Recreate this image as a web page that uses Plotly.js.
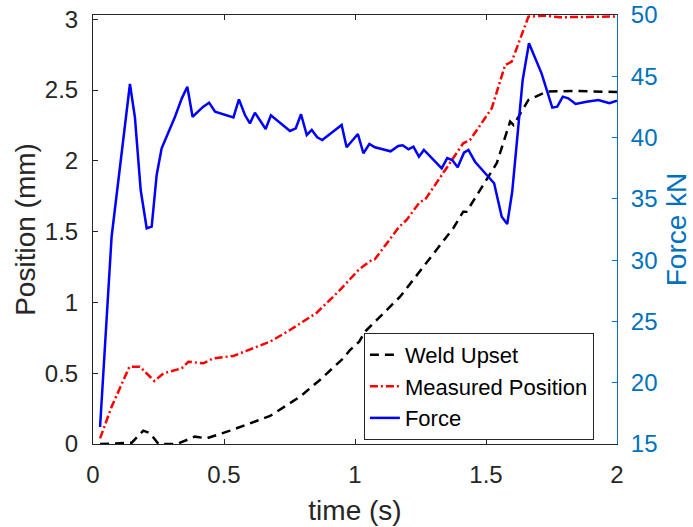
<!DOCTYPE html>
<html>
<head>
<meta charset="utf-8">
<script src="https://cdn.plot.ly/plotly-3.0.1.min.js"></script>
<style>html,body{margin:0;padding:0;background:#fff;}#chart{width:693px;height:527px;}</style>
</head>
<body>
<div id="chart"></div>
<script>
// Weld Upset (mm)
const weldTime = [0.027,0.148,0.192,0.218,0.25,0.32,0.389,0.434,0.523,0.637,0.676,0.79,0.866,0.955,0.981,1.016,1.038,1.172,1.375,1.413,1.426,1.541,1.592,1.605,1.662,1.732,1.833,2.0];
const weldPos  = [0,0.009,0.094,0.076,0,0,0.052,0.040,0.094,0.170,0.198,0.334,0.452,0.605,0.664,0.723,0.793,1.040,1.524,1.641,1.641,1.983,2.277,2.253,2.430,2.489,2.494,2.486];

// Measured Position (mm)
const measTime = [0.027,0.071,0.139,0.179,0.234,0.269,0.339,0.364,0.421,0.459,0.536,0.625,0.676,0.752,0.854,0.943,1.016,1.064,1.076,1.169,1.197,1.248,1.267,1.413,1.439,1.522,1.573,1.598,1.662,1.725,1.782,2.0];
const measPos  = [0.040,0.263,0.546,0.546,0.445,0.499,0.535,0.581,0.570,0.605,0.622,0.687,0.723,0.805,0.927,1.088,1.234,1.300,1.305,1.535,1.582,1.711,1.724,2.124,2.147,2.371,2.677,2.700,3.018,3.025,3.014,3.020];

// Force (kN)
const forceTime = [0.027,0.071,0.141,0.160,0.182,0.205,0.224,0.243,0.262,0.313,0.339,0.360,0.380,0.421,0.443,0.466,0.536,0.557,0.580,0.599,0.618,0.659,0.679,0.752,0.774,0.794,0.816,0.835,0.856,0.875,0.949,0.968,1.011,1.032,1.055,1.076,1.136,1.165,1.182,1.204,1.223,1.244,1.263,1.331,1.352,1.371,1.392,1.416,1.433,1.458,1.531,1.560,1.581,1.600,1.640,1.664,1.712,1.753,1.772,1.793,1.814,1.842,1.884,1.929,1.971,2.0];
const forceKN  = [16.39,31.91,44.37,41.65,35.72,32.60,32.73,36.95,39.13,41.70,43.20,44.15,41.70,42.52,42.85,42.11,41.65,43.12,41.84,41.16,42.03,40.70,41.82,40.54,40.76,41.90,40.21,40.62,40.02,39.80,41.03,39.21,40.29,38.72,39.48,39.21,38.88,39.31,39.37,39.04,39.26,38.44,38.99,37.49,38.33,38.17,37.57,38.77,38.99,38.03,36.27,33.54,32.95,35.58,44.70,47.69,45.24,42.44,42.52,43.34,43.20,42.74,42.93,43.07,42.80,43.01];

const xTicks = [0,0.5,1,1.5,2];
const xTickText = ['0','0.5','1','1.5','2'];
const yTicks = [0,0.5,1,1.5,2,2.5,3];
const yTickText = ['0','0.5','1','1.5','2','2.5','3'];
const y2Ticks = [15,20,25,30,35,40,45,50];
const y2TickText = ['15','20','25','30','35','40','45','50'];

const FONT = 'Liberation Sans, Arial, Helvetica, sans-serif';
const AX = '#262626';
const BLUEAX = '#0072BD';

const traces = [
  {x: weldTime, y: weldPos, type: 'scatter', mode: 'lines', name: 'Weld Upset',
   line: {color: '#000000', width: 2.5, dash: '9px,6px'}, yaxis: 'y'},
  {x: measTime, y: measPos, type: 'scatter', mode: 'lines', name: 'Measured Position',
   line: {color: '#ff0000', width: 2.5, dash: '8px,3px,2px,3px'}, yaxis: 'y'},
  {x: forceTime, y: forceKN, type: 'scatter', mode: 'lines', name: 'Force',
   line: {color: '#0000ff', width: 2.5}, yaxis: 'y2'}
];

const layout = {
  width: 693, height: 527,
  margin: {l: 93, r: 76, t: 15, b: 83},
  paper_bgcolor: '#ffffff', plot_bgcolor: '#ffffff',
  font: {family: FONT, color: AX},
  showlegend: true,
  xaxis: {
    range: [0, 2], tickvals: xTicks, ticktext: xTickText,
    ticks: 'inside', ticklen: 5, tickcolor: AX, tickwidth: 1,
    showline: true, linecolor: AX, linewidth: 1, mirror: 'ticks',
    showgrid: false, zeroline: false,
    tickfont: {size: 24, color: AX, family: FONT}, ticklabelstandoff: 9,
    title: {text: 'time (s)', font: {size: 28, color: AX, family: FONT}, standoff: 13}
  },
  yaxis: {
    range: [0, 3.03], tickvals: yTicks, ticktext: yTickText,
    ticks: 'inside', ticklen: 5, tickcolor: AX, tickwidth: 1,
    showline: true, linecolor: AX, linewidth: 1, mirror: false,
    showgrid: false, zeroline: false,
    tickfont: {size: 24, color: AX, family: FONT}, ticklabelstandoff: 9,
    title: {text: 'Position (mm)', font: {size: 28, color: AX, family: FONT}, standoff: 1}
  },
  yaxis2: {
    overlaying: 'y', side: 'right',
    range: [15, 50], tickvals: y2Ticks, ticktext: y2TickText,
    ticks: 'inside', ticklen: 5, tickcolor: BLUEAX, tickwidth: 1,
    showline: true, linecolor: BLUEAX, linewidth: 1,
    showgrid: false, zeroline: false,
    tickfont: {size: 24, color: BLUEAX, family: FONT}, ticklabelstandoff: 8,
    title: {text: 'Force kN', font: {size: 28, color: BLUEAX, family: FONT}, standoff: 9}
  },
  legend: {
    x: 0.517, y: 0.259, xanchor: 'left', yanchor: 'top',
    bgcolor: '#ffffff', bordercolor: AX, borderwidth: 1,
    font: {size: 22, color: '#000000', family: FONT},
    itemwidth: 30, tracegroupgap: 0
  }
};

Plotly.newPlot('chart', traces, layout, {staticPlot: true, displayModeBar: false});
</script>
</body>
</html>
